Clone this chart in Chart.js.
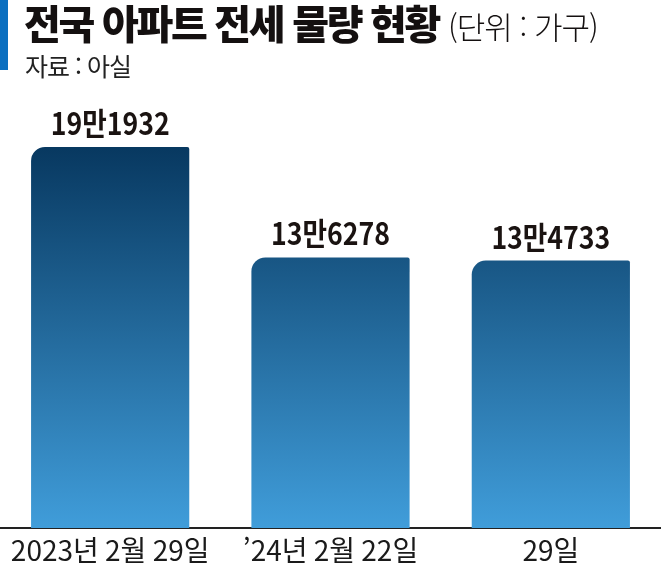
<!DOCTYPE html>
<html lang="ko">
<head>
<meta charset="UTF-8">
<script src="https://cdn.jsdelivr.net/npm/chart.js"></script>
<style>
  body { margin: 0; background: #fff; }
  #wrap { position: relative; width: 661px; height: 573px; overflow: hidden; font-family: "Noto Sans CJK KR", sans-serif; }
  #barra { position: absolute; left: 0; top: 0; width: 8px; height: 70px; background: #0b6fc0; }
  #titulo { position: absolute; left: 24px; top: 2px; font-size: 40px; line-height: 40px; font-weight: 900; letter-spacing: -2.3px; color: #141010; white-space: nowrap; }
  #titulo span { font-weight: 300; font-size: 31px; letter-spacing: -1px; }
  #fonte { position: absolute; left: 25px; top: 53px; font-size: 25px; line-height: 25px; color: #222; letter-spacing: -1px; }
  canvas { position: absolute; left: 0; top: 0; }
</style>
</head>
<body>
<div id="wrap">
  <canvas id="grafico" width="661" height="573"></canvas>
  <div id="barra"></div>
  <div id="titulo">전국 아파트 전세 물량 현황 <span>(단위 : 가구)</span></div>
  <div id="fonte">자료 : 아실</div>
</div>
<script>
const categorias = ['2023년 2월 29일', '\u201924년 2월 22일', '29일'];
const valores = [191932, 136278, 134733];
const rotulos = ['19만1932', '13만6278', '13만4733'];

// valores em cima das barras
const rotuloPlugin = {
  id: 'rotulos',
  afterDatasetsDraw(chart) {
    const ctx = chart.ctx;
    const meta = chart.getDatasetMeta(0);
    ctx.save();
    ctx.fillStyle = '#1a1311';
    ctx.font = 'bold 31px "Noto Sans CJK KR"';
    ctx.textAlign = 'center';
    ctx.textBaseline = 'alphabetic';
    meta.data.forEach((bar, i) => {
      ctx.save();
      ctx.translate(bar.x, bar.y - 12);
      ctx.scale(0.86, 1);
      ctx.fillText(rotulos[i], 0, 0);
      ctx.restore();
    });
    ctx.restore();
  }
};

function gradiente(c) {
  const area = c.chart.chartArea;
  if (!area) return '#1a5a8a';
  const g = c.chart.ctx.createLinearGradient(0, area.top, 0, area.bottom);
  g.addColorStop(0, '#05345b');
  g.addColorStop(1, '#409dda');
  return g;
}

new Chart(document.getElementById('grafico'), {
  type: 'bar',
  data: {
    labels: categorias,
    datasets: [{
      data: valores,
      backgroundColor: gradiente,
      borderWidth: 0,
      borderSkipped: 'start',
      borderRadius: { topLeft: 14, topRight: 2, bottomLeft: 0, bottomRight: 0 },
      categoryPercentage: 1,
      barPercentage: 0.718
    }]
  },
  options: {
    responsive: false,
    animation: false,
    layout: { padding: { top: 131, left: 0, right: 0, bottom: 0 } },
    plugins: {
      legend: { display: false },
      tooltip: { enabled: false }
    },
    scales: {
      x: {
        grid: { display: false, drawTicks: false },
        border: { display: true, color: '#222', width: 2 },
        ticks: {
          color: '#1a1a1a',
          padding: 8.5,
          font: { family: '"Noto Sans CJK KR"', size: 28, lineHeight: 1 }
        }
      },
      y: { display: false, min: 0, max: 200000 }
    }
  },
  plugins: [rotuloPlugin]
});
</script>
</body>
</html>
